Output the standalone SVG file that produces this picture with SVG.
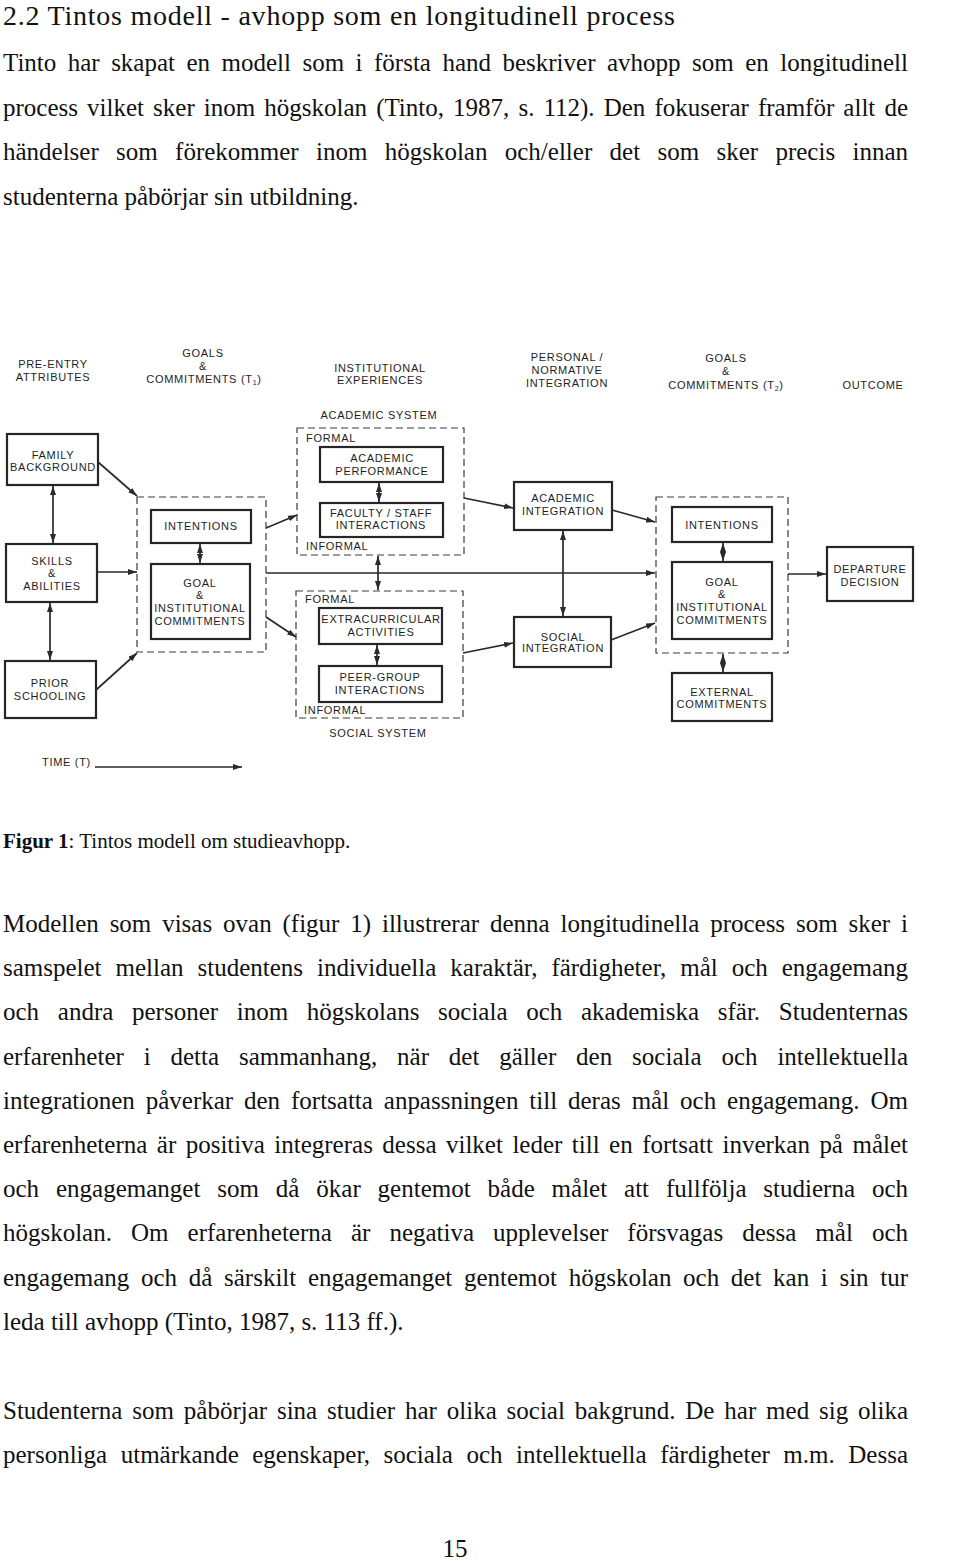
<svg xmlns="http://www.w3.org/2000/svg" width="960" height="1561" viewBox="0 0 960 1561">
<style>
.t{font-family:"Liberation Serif","Times New Roman",serif;font-size:25px;fill:#111}
.d{font-family:"Liberation Sans",Arial,sans-serif;font-size:11px;letter-spacing:0.7px;fill:#1e1e1e;text-anchor:middle}
.dl{text-anchor:start}
.box{fill:none;stroke:#262626;stroke-width:2.2}
.dash{fill:none;stroke:#3a3a3a;stroke-width:1.2;stroke-dasharray:7 4}
.c{fill:none;stroke:#2a2a2a;stroke-width:1.7}
.a{marker-end:url(#ah)}
.aa{marker-start:url(#ah);marker-end:url(#ah)}
</style>
<defs>
<marker id="ah" viewBox="0 0 10 10" refX="10" refY="5" markerWidth="9" markerHeight="6" markerUnits="userSpaceOnUse" orient="auto-start-reverse" preserveAspectRatio="none"><path d="M0,0 L10,5 L0,10 z" fill="#2a2a2a"/></marker>
</defs>
<rect width="960" height="1561" fill="#ffffff"/>

<g id="text-top">
<text class="t" x="3" y="25" style="font-size:28px" textLength="672" lengthAdjust="spacing">2.2 Tintos modell - avhopp som en longitudinell process</text>
<text class="t" x="3" y="71" word-spacing="5.2" textLength="905" lengthAdjust="spacing">Tinto har skapat en modell som i första hand beskriver avhopp som en longitudinell</text>
<text class="t" x="3" y="116" word-spacing="2.85" textLength="905" lengthAdjust="spacing">process vilket sker inom högskolan (Tinto, 1987, s. 112). Den fokuserar framför allt de</text>
<text class="t" x="3" y="160" word-spacing="11.1" textLength="905" lengthAdjust="spacing">händelser som förekommer inom högskolan och/eller det som sker precis innan</text>
<text class="t" x="3" y="205">studenterna påbörjar sin utbildning.</text>
</g>

<g id="headers">
<text class="d" x="53" y="368">PRE-ENTRY</text>
<text class="d" x="53" y="381">ATTRIBUTES</text>
<text class="d" x="203" y="357">GOALS</text>
<text class="d" x="203" y="370">&amp;</text>
<text class="d" x="204" y="383">COMMITMENTS (T<tspan font-size="7" dy="2">1</tspan><tspan dy="-2">)</tspan></text>
<text class="d" x="380" y="372">INSTITUTIONAL</text>
<text class="d" x="380" y="384">EXPERIENCES</text>
<text class="d" x="567" y="361">PERSONAL /</text>
<text class="d" x="567" y="374">NORMATIVE</text>
<text class="d" x="567" y="387">INTEGRATION</text>
<text class="d" x="726" y="362">GOALS</text>
<text class="d" x="726" y="375">&amp;</text>
<text class="d" x="726" y="389">COMMITMENTS (T<tspan font-size="7" dy="2">2</tspan><tspan dy="-2">)</tspan></text>
<text class="d" x="873" y="389">OUTCOME</text>
<text class="d" x="379" y="419">ACADEMIC SYSTEM</text>
<text class="d" x="378" y="737">SOCIAL SYSTEM</text>
</g>

<g id="family-background">
<rect class="box" x="7" y="434" width="91" height="51"/>
<text class="d" x="53" y="459">FAMILY</text>
<text class="d" x="53" y="471">BACKGROUND</text>
</g>
<g id="skills-abilities">
<rect class="box" x="6" y="544" width="91" height="58"/>
<text class="d" x="52" y="565">SKILLS</text>
<text class="d" x="52" y="577">&amp;</text>
<text class="d" x="52" y="590">ABILITIES</text>
</g>
<g id="prior-schooling">
<rect class="box" x="5" y="661" width="91" height="57"/>
<text class="d" x="50" y="687">PRIOR</text>
<text class="d" x="50" y="700">SCHOOLING</text>
</g>

<g id="goals-commitments-t1">
<rect class="dash" x="137" y="497" width="129" height="155"/>
<g id="intentions-1">
<rect class="box" x="151" y="510" width="100" height="33"/>
<text class="d" x="201" y="530">INTENTIONS</text>
</g>
<g id="goal-commitments-1">
<rect class="box" x="151" y="564" width="99" height="75"/>
<text class="d" x="200" y="587">GOAL</text>
<text class="d" x="200" y="599">&amp;</text>
<text class="d" x="200" y="612">INSTITUTIONAL</text>
<text class="d" x="200" y="625">COMMITMENTS</text>
</g>
</g>

<g id="academic-system">
<rect class="dash" x="297" y="428" width="167" height="127"/>
<text class="d dl" x="306" y="442">FORMAL</text>
<text class="d dl" x="306" y="550">INFORMAL</text>
<g id="academic-performance">
<rect class="box" x="320" y="447" width="123" height="35"/>
<text class="d" x="382" y="462">ACADEMIC</text>
<text class="d" x="382" y="475">PERFORMANCE</text>
</g>
<g id="faculty-staff">
<rect class="box" x="320" y="503" width="123" height="34"/>
<text class="d" x="381" y="517">FACULTY / STAFF</text>
<text class="d" x="381" y="529">INTERACTIONS</text>
</g>
</g>

<g id="social-system">
<rect class="dash" x="296" y="591" width="167" height="127"/>
<text class="d dl" x="305" y="603">FORMAL</text>
<text class="d dl" x="304" y="714">INFORMAL</text>
<g id="extracurricular">
<rect class="box" x="319" y="608" width="123" height="36"/>
<text class="d" x="381" y="623">EXTRACURRICULAR</text>
<text class="d" x="381" y="636">ACTIVITIES</text>
</g>
<g id="peer-group">
<rect class="box" x="319" y="666" width="123" height="36"/>
<text class="d" x="380" y="681">PEER-GROUP</text>
<text class="d" x="380" y="694">INTERACTIONS</text>
</g>
</g>

<g id="academic-integration">
<rect class="box" x="514" y="482" width="98" height="48"/>
<text class="d" x="563" y="502">ACADEMIC</text>
<text class="d" x="563" y="515">INTEGRATION</text>
</g>
<g id="social-integration">
<rect class="box" x="514" y="617" width="97" height="50"/>
<text class="d" x="563" y="641">SOCIAL</text>
<text class="d" x="563" y="652">INTEGRATION</text>
</g>

<g id="goals-commitments-t2">
<rect class="dash" x="656" y="497" width="132" height="156"/>
<g id="intentions-2">
<rect class="box" x="672" y="507" width="100" height="35"/>
<text class="d" x="722" y="529">INTENTIONS</text>
</g>
<g id="goal-commitments-2">
<rect class="box" x="672" y="562" width="100" height="77"/>
<text class="d" x="722" y="586">GOAL</text>
<text class="d" x="722" y="598">&amp;</text>
<text class="d" x="722" y="611">INSTITUTIONAL</text>
<text class="d" x="722" y="624">COMMITMENTS</text>
</g>
</g>
<g id="external-commitments">
<rect class="box" x="672" y="673" width="100" height="48"/>
<text class="d" x="722" y="696">EXTERNAL</text>
<text class="d" x="722" y="708">COMMITMENTS</text>
</g>
<g id="departure-decision">
<rect class="box" x="827" y="547" width="86" height="54"/>
<text class="d" x="870" y="573">DEPARTURE</text>
<text class="d" x="870" y="586">DECISION</text>
</g>
<g id="time-label">
<text class="d dl" x="42" y="766">TIME (T)</text>
</g>

<g id="connectors">
<line class="c a" x1="98" y1="462" x2="137" y2="496"/>
<line class="c a" x1="97" y1="572" x2="137" y2="572"/>
<line class="c a" x1="96" y1="690" x2="137" y2="653"/>
<line class="c aa" x1="53" y1="486" x2="53" y2="543"/>
<line class="c aa" x1="50" y1="603" x2="50" y2="660"/>
<line class="c aa" x1="200" y1="544" x2="200" y2="563"/>
<line class="c a" x1="266" y1="528" x2="297" y2="515"/>
<line class="c a" x1="266" y1="617" x2="296" y2="637"/>
<line class="c a" x1="266" y1="573" x2="655" y2="573"/>
<line class="c aa" x1="379" y1="483" x2="379" y2="502"/>
<line class="c aa" x1="378" y1="556" x2="378" y2="590"/>
<line class="c aa" x1="377" y1="645" x2="377" y2="665"/>
<line class="c a" x1="464" y1="498" x2="513" y2="508"/>
<line class="c a" x1="463" y1="653" x2="513" y2="643"/>
<line class="c aa" x1="563" y1="531" x2="563" y2="616"/>
<line class="c a" x1="612" y1="510" x2="655" y2="522"/>
<line class="c a" x1="611" y1="640" x2="655" y2="623"/>
<line class="c aa" x1="723" y1="543" x2="723" y2="561"/>
<line class="c a" x1="788" y1="574" x2="826" y2="574"/>
<line class="c aa" x1="723" y1="654" x2="723" y2="672"/>
<line class="c a" x1="95" y1="767" x2="242" y2="767"/>
</g>

<g id="caption">
<text class="t" x="3" y="848" style="font-size:21px"><tspan font-weight="bold">Figur 1</tspan>: Tintos modell om studieavhopp.</text>
</g>

<g id="text-body">
<text class="t" x="3" y="932" word-spacing="4.67" textLength="905" lengthAdjust="spacing">Modellen som visas ovan (figur 1) illustrerar denna longitudinella process som sker i</text>
<text class="t" x="3" y="976" word-spacing="7.75" textLength="905" lengthAdjust="spacing">samspelet mellan studentens individuella karaktär, färdigheter, mål och engagemang</text>
<text class="t" x="3" y="1020" word-spacing="12.4" textLength="905" lengthAdjust="spacing">och andra personer inom högskolans sociala och akademiska sfär. Studenternas</text>
<text class="t" x="3" y="1065" word-spacing="13.6" textLength="905" lengthAdjust="spacing">erfarenheter i detta sammanhang, när det gäller den sociala och intellektuella</text>
<text class="t" x="3" y="1109" word-spacing="4.7" textLength="905" lengthAdjust="spacing">integrationen påverkar den fortsatta anpassningen till deras mål och engagemang. Om</text>
<text class="t" x="3" y="1153" word-spacing="3.25" textLength="905" lengthAdjust="spacing">erfarenheterna är positiva integreras dessa vilket leder till en fortsatt inverkan på målet</text>
<text class="t" x="3" y="1197" word-spacing="10.6" textLength="905" lengthAdjust="spacing">och engagemanget som då ökar gentemot både målet att fullfölja studierna och</text>
<text class="t" x="3" y="1241" word-spacing="12.8" textLength="905" lengthAdjust="spacing">högskolan. Om erfarenheterna är negativa upplevelser försvagas dessa mål och</text>
<text class="t" x="3" y="1286" word-spacing="5.4" textLength="905" lengthAdjust="spacing">engagemang och då särskilt engagemanget gentemot högskolan och det kan i sin tur</text>
<text class="t" x="3" y="1330">leda till avhopp (Tinto, 1987, s. 113 ff.).</text>
<text class="t" x="3" y="1419" word-spacing="3.6" textLength="905" lengthAdjust="spacing">Studenterna som påbörjar sina studier har olika social bakgrund. De har med sig olika</text>
<text class="t" x="3" y="1463" word-spacing="7.25" textLength="905" lengthAdjust="spacing">personliga utmärkande egenskaper, sociala och intellektuella färdigheter m.m. Dessa</text>
<text class="t" x="455" y="1557" text-anchor="middle">15</text>
</g>
</svg>
